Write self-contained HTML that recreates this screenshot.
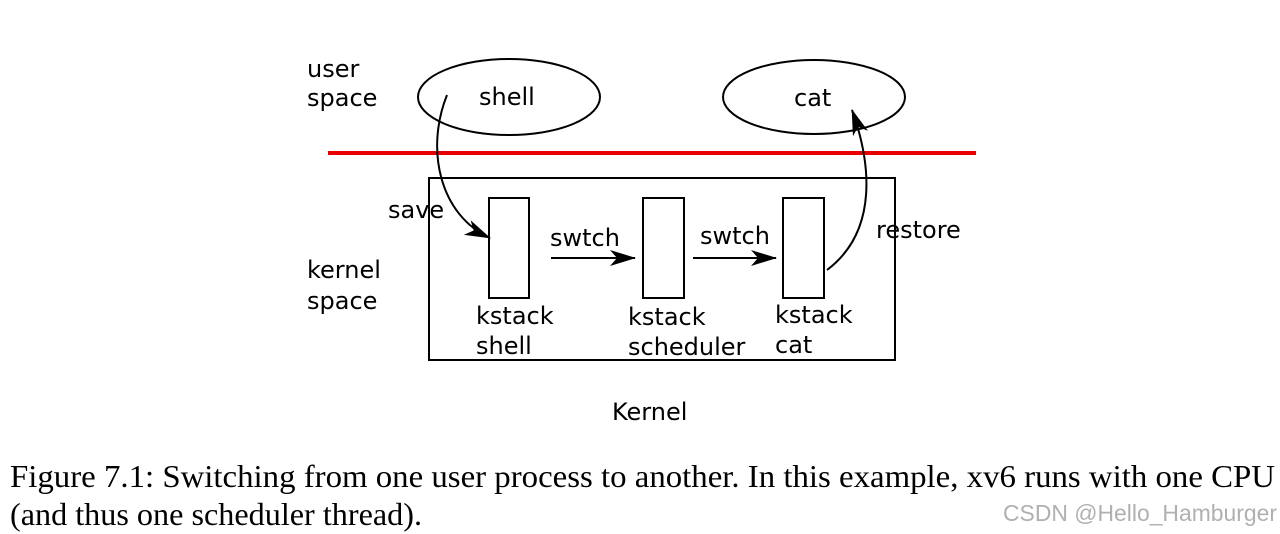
<!DOCTYPE html>
<html><head><meta charset="utf-8"><style>
html,body{margin:0;padding:0;background:#fff;}
svg{display:block;}
</style></head><body>
<svg width="1280" height="534" viewBox="0 0 1280 534" xmlns="http://www.w3.org/2000/svg">
<defs>
<marker id="ah" viewBox="0 0 26 16" refX="25" refY="8" markerWidth="26" markerHeight="16" markerUnits="userSpaceOnUse" orient="auto">
<path d="M0,0 L26,8 L0,16 L7,8 Z" fill="#000"/>
</marker>
</defs>
<g font-family="'DejaVu Sans', 'Liberation Sans', sans-serif" font-size="24" fill="#000">
<text x="307" y="77">user</text>
<text x="307" y="106">space</text>
<text x="307" y="278">kernel</text>
<text x="307" y="309">space</text>
<ellipse cx="509" cy="97" rx="91" ry="38" fill="none" stroke="#000" stroke-width="2"/>
<text x="479" y="105">shell</text>
<ellipse cx="814" cy="97" rx="91" ry="37" fill="none" stroke="#000" stroke-width="2"/>
<text x="794" y="106">cat</text>
<line x1="328" y1="153" x2="976" y2="153" stroke="#e60000" stroke-width="4"/>
<rect x="429" y="178" width="466" height="182" fill="none" stroke="#000" stroke-width="2"/>
<rect x="489" y="198" width="40" height="100" fill="none" stroke="#000" stroke-width="2"/>
<rect x="643" y="198" width="41" height="100" fill="none" stroke="#000" stroke-width="2"/>
<rect x="783" y="198" width="41" height="100" fill="none" stroke="#000" stroke-width="2"/>
<line x1="551" y1="258" x2="635" y2="258" stroke="#000" stroke-width="2" marker-end="url(#ah)"/>
<line x1="693" y1="258" x2="776" y2="258" stroke="#000" stroke-width="2" marker-end="url(#ah)"/>
<text x="550" y="246">swtch</text>
<text x="700" y="244">swtch</text>
<path d="M447,95 C425,150 440,215 490,238" fill="none" stroke="#000" stroke-width="2" marker-end="url(#ah)"/>
<text x="388" y="218">save</text>
<path d="M827,270 C880,230 870,160 852,110" fill="none" stroke="#000" stroke-width="2" marker-end="url(#ah)"/>
<text x="876" y="238">restore</text>
<text x="476" y="324">kstack</text>
<text x="476" y="354">shell</text>
<text x="628" y="325">kstack</text>
<text x="628" y="355">scheduler</text>
<text x="775" y="323">kstack</text>
<text x="775" y="353">cat</text>
<text x="612" y="420">Kernel</text>
</g>
<g font-family="'Liberation Serif', serif" font-size="32" fill="#000">
<text x="10" y="487" textLength="1265" lengthAdjust="spacingAndGlyphs">Figure 7.1: Switching from one user process to another. In this example, xv6 runs with one CPU</text>
<text x="10" y="525" textLength="412" lengthAdjust="spacingAndGlyphs">(and thus one scheduler thread).</text>
</g>
<text x="1003" y="521" font-family="'Liberation Sans', sans-serif" font-size="23" fill="#b0b0b0" textLength="274" lengthAdjust="spacingAndGlyphs">CSDN @Hello_Hamburger</text>
</svg>
</body></html>
